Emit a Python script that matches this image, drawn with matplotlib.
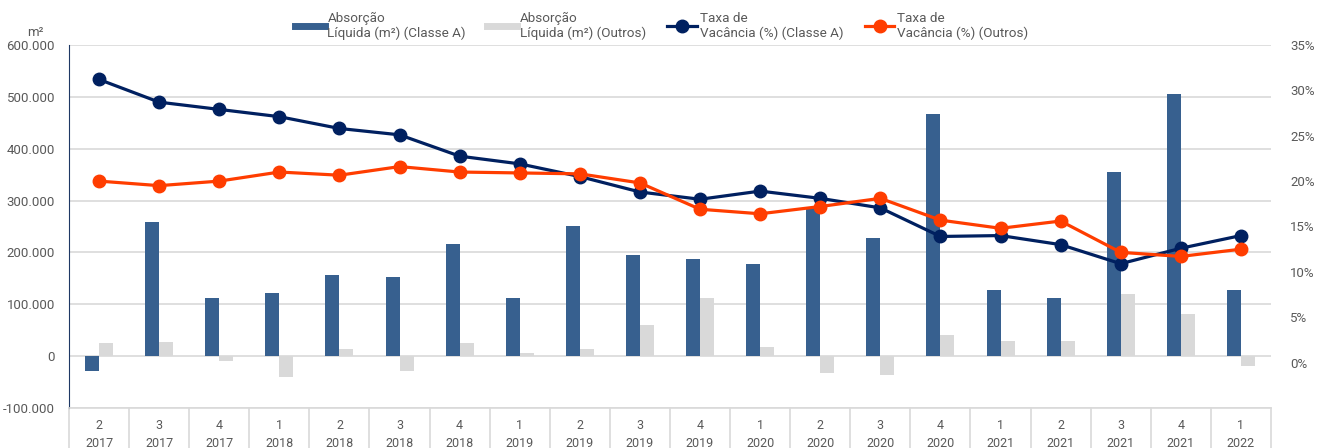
#Absorção líquida e taxa de vacância por trimestre.
import matplotlib
matplotlib.use("Agg")
import matplotlib.pyplot as plt
from matplotlib.lines import Line2D
from matplotlib.transforms import blended_transform_factory
from matplotlib.ticker import FuncFormatter

#Font used across the figure.
plt.rcParams['font.family'] = ['Roboto', 'DejaVu Sans']
plt.rcParams['font.size'] = 9

#Categories (quarter / year).
quarters = ['2', '3', '4', '1', '2', '3', '4', '1', '2', '3', '4', '1', '2', '3', '4', '1', '2', '3', '4', '1']
years = ['2017', '2017', '2017', '2018', '2018', '2018', '2018', '2019', '2019', '2019',
         '2019', '2020', '2020', '2020', '2020', '2021', '2021', '2021', '2021', '2022']

#Net absorption (m²).
abs_classe_a = [-29000, 259000, 112000, 121000, 156000, 153000, 217000, 112000, 251000, 195000,
                187000, 177000, 285000, 228000, 467000, 128000, 113000, 355000, 505000, 127000]
abs_outros = [26000, 27000, -9000, -40000, 13000, -28000, 26000, 7000, 13000, 60000,
              112000, 18000, -32000, -37000, 41000, 30000, 29000, 120000, 82000, -19000]

#Vacancy rate (%).
vac_classe_a = [31.2, 28.7, 27.9, 27.1, 25.8, 25.1, 22.75, 21.9, 20.5, 18.8,
                18.0, 18.9, 18.1, 17.05, 13.9, 14.0, 13.0, 10.9, 12.6, 14.0]
vac_outros = [20.0, 19.5, 20.0, 21.0, 20.65, 21.6, 21.0, 20.9, 20.8, 19.8,
              16.9, 16.4, 17.2, 18.1, 15.7, 14.8, 15.6, 12.15, 11.7, 12.5]

#Colours.
c_bar_a = '#37608f'
c_bar_o = '#d9d9d9'
c_line_a = '#002060'
c_line_o = '#ff3d00'
c_text = '#595959'
c_grid = '#d9d9d9'

fig = plt.figure(figsize=(13.22, 4.48), dpi=100)
ax = fig.add_axes([0.0522, 0.0893, 0.9092, 0.8103])

x = list(range(len(quarters)))
w = 0.233
ax.bar([i - w/2 for i in x], abs_classe_a, width=w, color=c_bar_a, zorder=2)
ax.bar([i + w/2 for i in x], abs_outros, width=w, color=c_bar_o, zorder=2)

#Left axis.
ax.set_ylim(-100000, 600000)
ax.set_xlim(-0.5, len(quarters) - 0.5)
ax.set_yticks(range(-100000, 600001, 100000))
ax.yaxis.set_major_formatter(FuncFormatter(lambda v, p: f"{int(v):,}".replace(',', '.')))
ax.yaxis.grid(True, color=c_grid, linewidth=1.2)
ax.set_axisbelow(True)
ax.tick_params(axis='y', length=0, pad=10, labelcolor=c_text, labelsize=9.5)
for s in ['top', 'right']:
    ax.spines[s].set_visible(False)
ax.spines['left'].set_color('#1f3864')
ax.spines['bottom'].set_color(c_grid)
ax.spines['bottom'].set_linewidth(1.2)
ax.text(-0.028, 1.035, 'm²', transform=ax.transAxes, ha='center', va='center',
        color=c_text, fontsize=9.5)

#Category table below the plot.
ax.set_xticks(x)
ax.set_xticklabels(quarters)
ax.tick_params(axis='x', length=0, pad=8, labelcolor=c_text, labelsize=9)
trans = blended_transform_factory(ax.transData, ax.transAxes)
for i, yr in enumerate(years):
    ax.text(i, -0.097, yr, transform=trans, ha='center', va='center',
            color=c_text, fontsize=9, clip_on=False)
for i in range(len(quarters) + 1):
    ax.add_line(Line2D([i - 0.5, i - 0.5], [0, -0.15], transform=trans,
                       color=c_grid, linewidth=1.2, clip_on=False))

#Right axis for vacancy.
ax2 = ax.twinx()
ax2.plot(x, vac_classe_a, color=c_line_a, linewidth=2.3, marker='o', markersize=9)
ax2.plot(x, vac_outros, color=c_line_o, linewidth=2.3, marker='o', markersize=9)
ax2.set_ylim(-5, 35)
ax2.set_yticks(range(0, 36, 5))
ax2.set_yticklabels([f"{v}%" for v in range(0, 36, 5)])
ax2.tick_params(axis='y', length=0, pad=14, labelcolor=c_text, labelsize=9.5)
for s in ax2.spines.values():
    s.set_visible(False)

#Legend.
handles = [Line2D([], [], color=c_bar_a, linewidth=5),
           Line2D([], [], color=c_bar_o, linewidth=5),
           Line2D([], [], color=c_line_a, linewidth=2.3, marker='o', markersize=9),
           Line2D([], [], color=c_line_o, linewidth=2.3, marker='o', markersize=9)]
labels = ['Absorção\nLíquida (m²) (Classe A)', 'Absorção\nLíquida (m²) (Outros)',
          'Taxa de\nVacância (%) (Classe A)', 'Taxa de\nVacância (%) (Outros)']
fig.legend(handles, labels, ncol=4, loc='center', bbox_to_anchor=(0.5005, 0.942),
           frameon=False, handlelength=2.2, handletextpad=0.2, columnspacing=1.6,
           labelcolor=c_text, fontsize=9.7)

fig.savefig('out.png', dpi=100)
